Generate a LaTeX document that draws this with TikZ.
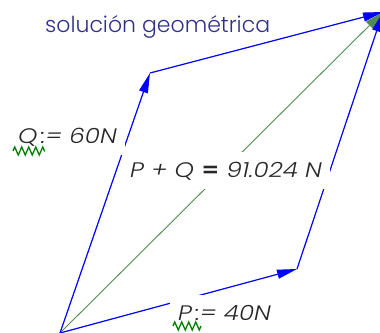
\documentclass[tikz,border=0pt]{standalone}
\usepackage{fontspec}
\usetikzlibrary{arrows.meta,decorations.pathmorphing}
\newfontfamily\ttlfont{Poppins Light}
\newfontfamily\lblfont{Poppins Light Italic}[FakeStretch=1.17]
\newfontfamily\lblbold{Poppins SemiBold}[FakeStretch=1.17]
\definecolor{ttlblue}{RGB}{48,48,140}
\definecolor{vecblue}{RGB}{0,0,255}
\definecolor{resgreen}{RGB}{80,140,80}
\definecolor{zzgreen}{RGB}{0,128,0}
\definecolor{lblgray}{RGB}{40,40,40}
\tikzset{
  vec/.style={draw=vecblue, line width=1.2pt, -{Triangle[length=20pt,width=9pt]}, fill=vecblue},
  res/.style={draw=resgreen, line width=0.9pt, -{Triangle[length=19pt,width=10pt]}},
  lbl/.style={font=\lblfont\fontsize{21}{24}\selectfont, text=lblgray, fill=white, inner xsep=8pt, inner ysep=10pt, text height=15pt, text depth=2pt, anchor=base west},
  zz/.style={draw=zzgreen, line width=1.3pt, decorate, decoration={zigzag, segment length=7pt, amplitude=4pt}},
  ttl/.style={font=\ttlfont\fontsize{22}{26}\selectfont, text=ttlblue, anchor=base west, inner sep=0pt}
}
\begin{document}
\begin{tikzpicture}[x=1pt,y=-1pt]
\useasboundingbox (0,0) rectangle (380,332);
\clip (0,0) rectangle (380,332);
\coordinate (O) at (60,333);
\coordinate (P) at (297,269);
\coordinate (Q) at (150,73);
\coordinate (S) at (383,12);
\draw[res] (O) -- (S);
\draw[vec] (O) -- (P);
\draw[vec] (O) -- (Q);
\draw[vec] (P) -- (S);
\draw[vec] (Q) -- (S);
\node[ttl] (title) at (45,32) {solución geométrica};
\node[lbl] (ql) at (10,143) {Q\,:= 60N};
\node[lbl] (pl) at (170,320) {P\,:= 40N};
\node[lbl] (sl) at (122,177) {P + Q {\lblbold =} 91.024 N};
\draw[zz] (13,151) -- (45,151);
\draw[zz] (173,326) -- (201,326);
\end{tikzpicture}
\end{document}
